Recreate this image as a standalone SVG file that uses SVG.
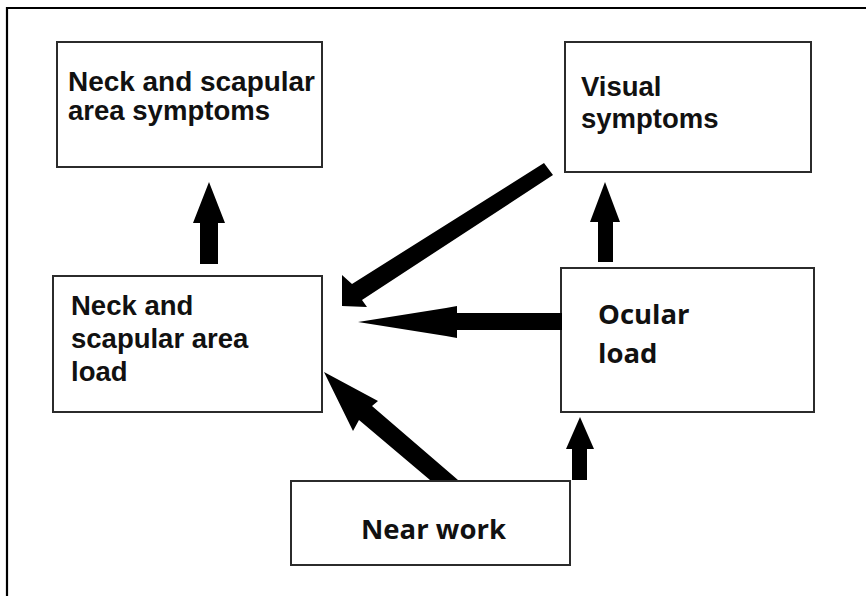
<svg xmlns="http://www.w3.org/2000/svg" width="866" height="596" viewBox="0 0 866 596">
  <style>
    .box { fill: #ffffff; stroke: #2b2b2b; stroke-width: 2; }
    .t1 { font-family: "Liberation Sans", Arial, sans-serif; font-weight: bold; font-size: 27.5px; fill: #111111; }
    .t2 { font-family: "Open Sans", "Noto Sans", sans-serif; font-weight: bold; font-size: 27.5px; fill: #111111; }
    .arrow { fill: #000000; stroke: none; }
  </style>
  <rect x="0" y="0" width="866" height="596" fill="#ffffff"/>
  <path d="M7,597 V8 H867" fill="none" stroke="#000000" stroke-width="2.2"/>

  <g id="node-neck-symptoms">
    <rect class="box" x="57" y="42" width="265" height="125"/>
    <text class="t1" x="68" y="91" font-size="25" textLength="247" lengthAdjust="spacingAndGlyphs">Neck and scapular</text>
    <text class="t1" x="68" y="119.5" font-size="25" textLength="202" lengthAdjust="spacingAndGlyphs">area symptoms</text>
  </g>

  <g id="node-visual-symptoms">
    <rect class="box" x="565" y="42" width="246" height="130"/>
    <text class="t1" x="581" y="95.5" font-size="28">Visual</text>
    <text class="t1" x="581" y="127.5" font-size="28">symptoms</text>
  </g>

  <g id="node-neck-load">
    <rect class="box" x="53" y="276" width="269" height="136"/>
    <text class="t1" x="71" y="314.5">Neck and</text>
    <text class="t1" x="71" y="347.5">scapular area</text>
    <text class="t1" x="71" y="380.5">load</text>
  </g>

  <g id="node-ocular-load">
    <rect class="box" x="561" y="268" width="253" height="144"/>
    <text class="t2" x="598" y="324">Ocular</text>
    <text class="t2" x="598" y="363">load</text>
  </g>

  <g id="node-near-work">
    <rect class="box" x="291" y="481" width="279" height="84"/>
    <text class="t2" x="361" y="539">Near work</text>
  </g>

  <g id="connectors">
    <!-- neck load -> neck symptoms -->
    <polygon class="arrow" points="209,182 225,223 218,223 218,264 200,264 200,223 193,223"/>
    <!-- ocular load -> visual symptoms -->
    <polygon class="arrow" points="605,182 620,222 613,222 613,262 598,262 598,222 590,222"/>
    <!-- near work -> ocular load -->
    <polygon class="arrow" points="580,417 594,449 587,449 587,480 572,480 572,449 566,449"/>
    <!-- ocular load -> neck load -->
    <polygon class="arrow" points="358,322 446,308 457,306 457,313 562,313 562,330 457,330 457,338 446,336"/>
    <!-- visual symptoms -> neck load -->
    <polygon class="arrow" points="544,163 553,175 362,300 367,307 342,306 342,275 352,284"/>
    <!-- near work -> neck load -->
    <polygon class="arrow" points="458,480 372,406 378,401 324,372 353,431 359,420 430,480"/>
  </g>
</svg>
